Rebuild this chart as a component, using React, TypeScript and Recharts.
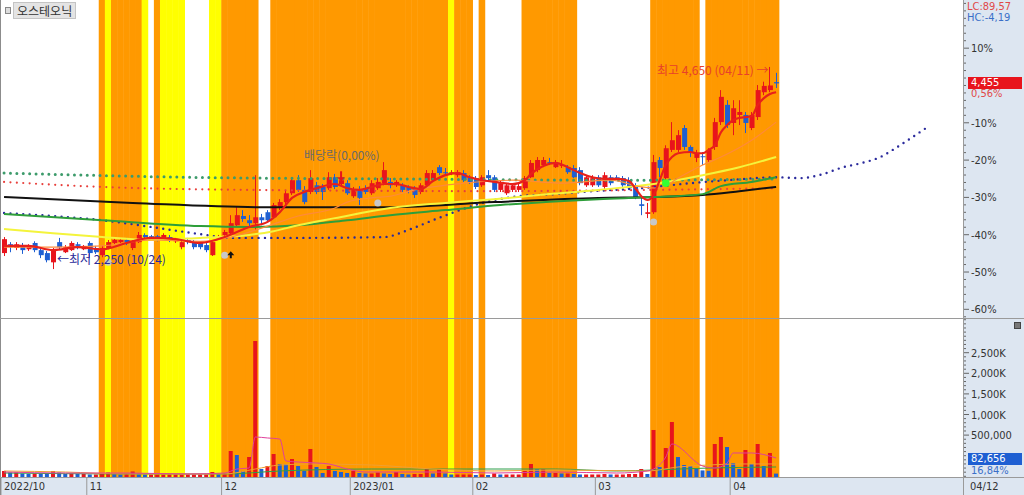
import { BarChart, ComposedChart, Bar, Line, XAxis, YAxis, ReferenceDot } from "recharts";

// daily candles (KRW), 2022-10-12 .. 2023-04-12, one per trading day
const openP = [
  2440, 2545, 2500, 2535, 2485, 2560, 2475, 2440, 2330, 2570,
  2450, 2475, 2545, 2485, 2560, 2500, 2415, 2500, 2560, 2570,
  2595, 2500, 2570, 2655, 2640, 2640, 2620, 2630, 2580, 2510,
  2595, 2570, 2560, 2535, 2415, 2620, 2655, 2675, 2770, 2880,
  2830, 2795, 2865, 2925, 2865, 2975, 3045, 3150, 3305, 3190,
  3165, 3245, 3225, 3210, 3340, 3260, 3270, 3115, 3190, 3210,
  3150, 3210, 3270, 3285, 3245, 3245, 3225, 3210, 3165, 3245,
  3305, 3460, 3400, 3400, 3365, 3390, 3340, 3330, 3245, 3365,
  3340, 3190, 3150, 3190, 3190, 3210, 3340, 3425, 3485, 3520,
  3460, 3485, 3460, 3450, 3425, 3245, 3245, 3340, 3225, 3340,
  3340, 3330, 3305, 3245, 3020, 2905, 2925, 3545, 3330, 3665,
  3665, 3925, 3700, 3570, 3590, 3545, 3700, 3995, 4200, 3985,
  4080, 4080, 3925, 4055, 4350, 4375, 4470,
];
const highP = [
  2630, 2570, 2570, 2560, 2545, 2580, 2500, 2465, 2500, 2620,
  2535, 2580, 2570, 2535, 2580, 2525, 2525, 2595, 2620, 2620,
  2620, 2595, 2690, 2675, 2655, 2655, 2675, 2655, 2620, 2595,
  2620, 2595, 2580, 2560, 2570, 2655, 2715, 2890, 2985, 2950,
  2890, 3365, 2905, 2950, 3035, 3080, 3190, 3340, 3365, 3235,
  3425, 3285, 3260, 3400, 3380, 3355, 3305, 3225, 3235, 3245,
  3305, 3330, 3520, 3330, 3305, 3270, 3245, 3235, 3270, 3425,
  3425, 3485, 3450, 3425, 3425, 3425, 3365, 3355, 3365, 3425,
  3365, 3305, 3270, 3270, 3260, 3355, 3545, 3580, 3580, 3570,
  3545, 3545, 3485, 3485, 3460, 3365, 3365, 3365, 3400, 3365,
  3365, 3355, 3340, 3270, 3105, 3035, 3605, 3580, 3720, 3995,
  3900, 3960, 3720, 3665, 3640, 3685, 4045, 4375, 4255, 4255,
  4255, 4115, 4115, 4435, 4475, 4650, 4580,
];
const lowP = [
  2405, 2450, 2475, 2430, 2465, 2450, 2380, 2330, 2250, 2485,
  2440, 2465, 2485, 2475, 2380, 2430, 2390, 2485, 2545, 2560,
  2535, 2475, 2560, 2595, 2595, 2580, 2595, 2570, 2560, 2485,
  2545, 2485, 2485, 2450, 2405, 2605, 2630, 2665, 2750, 2810,
  2760, 2715, 2770, 2810, 2855, 2950, 3020, 3130, 3165, 3020,
  3140, 3140, 3070, 3190, 3200, 3235, 3130, 3095, 3010, 3140,
  3130, 3190, 3245, 3210, 3225, 3165, 3150, 3095, 3140, 3225,
  3285, 3365, 3365, 3365, 3340, 3285, 3260, 3200, 3225, 3285,
  3165, 3165, 3130, 3165, 3165, 3190, 3330, 3400, 3460, 3485,
  3450, 3450, 3380, 3330, 3245, 3225, 3225, 3225, 3200, 3245,
  3305, 3225, 3190, 3080, 2890, 2855, 2905, 3340, 3305, 3640,
  3640, 3665, 3580, 3520, 3485, 3510, 3665, 3960, 3925, 3840,
  3960, 3865, 3900, 4020, 4315, 4350, 4400,
];
const closeP = [
  2605, 2510, 2545, 2475, 2525, 2475, 2415, 2355, 2475, 2510,
  2510, 2560, 2525, 2525, 2440, 2450, 2500, 2570, 2595, 2595,
  2560, 2570, 2655, 2630, 2630, 2620, 2655, 2595, 2605, 2570,
  2570, 2510, 2510, 2475, 2570, 2630, 2690, 2795, 2890, 2845,
  2795, 2865, 2830, 2830, 3010, 3045, 3150, 3305, 3190, 3045,
  3330, 3165, 3165, 3340, 3225, 3305, 3150, 3190, 3095, 3165,
  3270, 3285, 3425, 3245, 3285, 3190, 3190, 3130, 3245, 3390,
  3390, 3390, 3390, 3400, 3400, 3305, 3285, 3225, 3340, 3330,
  3190, 3270, 3245, 3245, 3235, 3330, 3510, 3545, 3545, 3510,
  3510, 3485, 3400, 3340, 3270, 3340, 3330, 3245, 3365, 3270,
  3330, 3245, 3210, 3105, 3000, 2925, 3520, 3450, 3685, 3780,
  3840, 3700, 3640, 3625, 3580, 3665, 3995, 4295, 3960, 4160,
  4115, 3985, 4080, 4375, 4425, 4430, 4455,
];
const volume = [
  146000, 109000, 112000, 85000, 73000, 85000, 80000, 73000, 146000, 109000,
  73000, 85000, 73000, 73000, 61000, 61000, 73000, 109000, 73000, 61000,
  73000, 133000, 85000, 61000, 61000, 61000, 61000, 61000, 61000, 61000,
  61000, 61000, 61000, 61000, 121000, 73000, 85000, 631000, 534000, 146000,
  485000, 3301000, 194000, 267000, 558000, 316000, 310000, 437000, 267000, 146000,
  680000, 243000, 97000, 267000, 146000, 121000, 97000, 146000, 97000, 85000,
  85000, 109000, 85000, 73000, 121000, 73000, 61000, 73000, 73000, 194000,
  85000, 194000, 85000, 61000, 61000, 61000, 61000, 49000, 61000, 49000,
  85000, 61000, 61000, 61000, 61000, 146000, 316000, 194000, 194000, 97000,
  97000, 85000, 85000, 73000, 61000, 61000, 61000, 61000, 73000, 61000,
  61000, 61000, 73000, 73000, 194000, 73000, 1141000, 243000, 704000, 1335000,
  485000, 291000, 267000, 194000, 160000, 150000, 801000, 971000, 728000, 340000,
  194000, 655000, 316000, 801000, 267000, 583000, 82656,
];

// indicator lines as [day index, value]
const ma5Pts = [[0, 2525], [4, 2525], [8, 2475], [12, 2510], [16, 2485], [20, 2560], [24, 2620], [28, 2605], [32, 2560], [36, 2630], [38, 2690], [40, 2750], [43, 2810], [45, 2925], [47, 3095], [49, 3165], [51, 3210], [54, 3260], [56, 3210], [58, 3190], [60, 3225], [62, 3260], [64, 3260], [66, 3225], [68, 3200], [70, 3295], [72, 3365], [74, 3390], [76, 3340], [78, 3305], [80, 3285], [83, 3260], [85, 3305], [86, 3380], [88, 3475], [90, 3510], [92, 3460], [94, 3390], [96, 3340], [98, 3320], [100, 3320], [102, 3295], [103, 3210], [104, 3115], [105, 3070], [106, 3130], [107, 3305], [108, 3485], [109, 3580], [110, 3625], [112, 3640], [113, 3625], [114, 3625], [115, 3665], [116, 3720], [117, 3875], [118, 3960], [119, 4020], [120, 4045], [121, 4055], [122, 4065], [123, 4200], [124, 4280], [125, 4330], [126, 4350]];
const ma20Pts = [[0, 2510], [8, 2510], [16, 2525], [24, 2595], [32, 2580], [37, 2630], [43, 2760], [48, 2880], [54, 2975], [56, 3045], [60, 3095], [63, 3115], [67, 3190], [75, 3270], [83, 3305], [91, 3270], [99, 3305], [104, 3225], [107, 3210], [110, 3330], [114, 3485], [117, 3580], [122, 3780], [126, 3995]];
const ma60Pts = [[0, 2725], [8, 2675], [16, 2630], [24, 2595], [32, 2620], [40, 2655], [44, 2700], [48, 2770], [54, 2855], [63, 2975], [72, 3035], [80, 3080], [89, 3140], [97, 3190], [106, 3260], [114, 3365], [120, 3460], [126, 3580]];
const ma120Pts = [[0, 2905], [16, 2830], [32, 2760], [40, 2750], [48, 2770], [56, 2830], [63, 2890], [72, 2950], [81, 3010], [97, 3080], [106, 3105], [114, 3140], [117, 3235], [122, 3285], [126, 3340]];
const ma240Pts = [[0, 3105], [21, 3035], [42, 2985], [63, 2985], [80, 3045], [97, 3095], [106, 3105], [114, 3130], [120, 3175], [126, 3225]];
const dotGreenPts = [[0, 3390], [30, 3340], [65, 3320], [100, 3305], [126, 3320]];
const dotRedPts = [[0, 3285], [16, 3225], [40, 3190], [80, 3175], [106, 3190], [126, 3210]];
const dotBluePts = [[0, 2915], [8, 2880], [16, 2830], [24, 2750], [32, 2665], [37, 2620], [48, 2620], [62, 2630], [66, 2715], [70, 2830], [74, 2940], [78, 3035], [84, 3115], [90, 3140], [96, 3175], [104, 3210], [112, 3270], [118, 3305], [126, 3340], [130, 3330], [133, 3365], [137, 3460], [140, 3510], [143, 3580], [146, 3710], [148, 3805], [151, 3950]];

const vma5Pts = [[0, 121000], [10, 97000], [20, 97000], [30, 73000], [36, 97000], [38, 194000], [40, 218000], [41, 971000], [43, 947000], [45, 922000], [46, 388000], [48, 364000], [51, 340000], [53, 316000], [56, 194000], [59, 121000], [70, 121000], [80, 97000], [90, 121000], [100, 97000], [105, 146000], [106, 194000], [108, 485000], [109, 801000], [111, 631000], [112, 485000], [114, 267000], [116, 218000], [118, 340000], [119, 583000], [122, 583000], [126, 461000]];
const vma20Pts = [[0, 146000], [10, 121000], [20, 73000], [36, 73000], [41, 194000], [45, 291000], [50, 316000], [60, 291000], [70, 194000], [80, 146000], [90, 170000], [105, 146000], [110, 243000], [115, 291000], [120, 316000], [126, 316000]];
const vma60Pts = [[0, 97000], [20, 73000], [36, 73000], [45, 146000], [60, 194000], [90, 194000], [100, 146000], [106, 170000], [115, 218000], [126, 243000]];

// highlight columns: [first day, last day, colour key]
const bandRuns: [number, number, string][] = [
  [16, 16, "o"], [17, 17, "y"], [18, 22, "o"], [23, 23, "y"], [25, 25, "o"],
  [26, 29, "y"], [34, 35, "y"], [36, 41, "o"], [44, 72, "o"], [73, 73, "y"],
  [74, 76, "o"], [78, 78, "o"], [85, 93, "o"], [106, 113, "o"], [115, 126, "o"],
];

const monthTicks: [number, string][] = [[0, "2022/10"], [14, "11"], [36, "12"], [57, "2023/01"], [77, "02"], [97, "03"], [119, "04"]];
const MAJOR_PCT = [10, -10, -20, -30, -40, -50, -60];
const VOL_LABELS: Record<number, string> = { 500000: "500,000", 1000000: "1,000K", 1500000: "1,500K", 2000000: "2,000K", 2500000: "2,500K" };

const BASE_PRICE = 4430;
const W = 1024;
const AXIS_W = 61;
const SLOTS = 157;
const SLOT_W = (W - 1 - AXIS_W) / SLOTS;
const MAIN_H = 318;
const P_MIN = 1669;
const P_MAX = 5445;
const VOL_MIN = -517000;
const VOL_MAX = 3318000;

const RED = "#e8141c";
const BLUE = "#1e5fd2";
const PANEL = "#dde6f1";
const NUM_FONT = "'Liberation Sans Narrow','DejaVu Sans Condensed','Liberation Sans',sans-serif";
const KR_FONT = "'Noto Sans CJK KR',sans-serif";

const spread = (pts: number[][]) => {
  const out: (number | null)[] = Array(SLOTS).fill(null);
  pts.forEach(([i, v]) => (out[i] = v));
  return out;
};
const bandOf: string[] = Array(SLOTS).fill("");
bandRuns.forEach(([a, b, c]) => {
  for (let i = a; i <= b; i++) bandOf[i] = c;
});
const s = {
  ma5: spread(ma5Pts), ma20: spread(ma20Pts), ma60: spread(ma60Pts), ma120: spread(ma120Pts), ma240: spread(ma240Pts),
  dg: spread(dotGreenPts), dr: spread(dotRedPts), db: spread(dotBluePts),
  v5: spread(vma5Pts), v20: spread(vma20Pts), v60: spread(vma60Pts),
};

const rows = Array.from({ length: SLOTS }, (_, i) => ({
  i,
  open: openP[i], high: highP[i], low: lowP[i], close: closeP[i],
  vol: volume[i],
  volUp: i === 0 || volume[i] >= volume[i - 1],
  ma5: s.ma5[i], ma20: s.ma20[i], ma60: s.ma60[i], ma120: s.ma120[i], ma240: s.ma240[i],
  dg: s.dg[i], dr: s.dr[i], db: s.db[i],
  v5: s.v5[i] == null ? null : VOL_MIN + (s.v5[i] as number),
  v20: s.v20[i] == null ? null : VOL_MIN + (s.v20[i] as number),
  v60: s.v60[i] == null ? null : VOL_MIN + (s.v60[i] as number),
  band: bandOf[i] ? 1 : 0,
}));

const priceTicks = Array.from({ length: 43 }, (_, k) => BASE_PRICE * (1 + (k - 31) / 50));
const volTicks = Array.from({ length: 39 }, (_, k) => (k - 5) * 100000);

const Candle = (p: any) => {
  const d = p.payload;
  if (!d || d.high == null || !isFinite(p.y) || !isFinite(p.height)) return null;
  const top = Math.min(p.y, p.y + p.height);
  const h = Math.abs(p.height);
  const ppu = d.high === d.low ? 0 : h / (d.high - d.low);
  const up = d.close >= d.open;
  const color = up ? RED : BLUE;
  const bodyTop = top + (d.high - Math.max(d.open, d.close)) * ppu;
  const bodyH = Math.max(1, Math.abs(d.open - d.close) * ppu);
  const cx = Math.round(p.x + p.width / 2) - 0.5;
  return (
    <g>
      <line x1={cx} x2={cx} y1={top} y2={top + h} stroke={color} strokeWidth={1} />
      <rect x={p.x} y={bodyTop} width={p.width} height={bodyH} fill={color} />
    </g>
  );
};

const VolBar = (p: any) => {
  const d = p.payload;
  if (!d || d.vol == null || !isFinite(p.height)) return null;
  return <rect x={p.x} y={Math.min(p.y, p.y + p.height)} width={p.width} height={Math.abs(p.height)} fill={d.volUp ? RED : BLUE} />;
};

const BandCell = (p: any) => {
  const c = bandOf[p.payload?.i];
  if (!c) return null;
  return <rect x={p.x - 0.3} y={p.y} width={p.width + 0.6} height={p.height} fill={c === "o" ? "#ff9900" : "#ffff00"} />;
};

const PriceTick = ({ x, y, payload }: any) => {
  const pct = Math.round((payload.value / BASE_PRICE - 1) * 100);
  const major = MAJOR_PCT.includes(pct);
  return (
    <g>
      <line x1={x} x2={x + (major ? 6 : 3)} y1={y} y2={y} stroke="#666" />
      {major && (
        <text x={x + 8} y={y} dy={4} fontSize={11} fill="#333" fontFamily={NUM_FONT}>{pct}%</text>
      )}
    </g>
  );
};

const VolTick = ({ x, y, payload }: any) => {
  const label = VOL_LABELS[payload.value];
  return (
    <g>
      <line x1={x} x2={x + (label ? 6 : 3)} y1={y} y2={y} stroke="#666" />
      {label && (
        <text x={x + 8} y={y} dy={4} fontSize={11} fill="#333" fontFamily={NUM_FONT}>{label}</text>
      )}
    </g>
  );
};

const monthLabel: Record<number, string> = Object.fromEntries(monthTicks);
const MonthTick = ({ x, y, payload }: any) => {
  const left = x - SLOT_W / 2;
  return (
    <g>
      <line x1={left} x2={left} y1={y} y2={y + 18} stroke="#999" />
      <text x={left + 3} y={y + 13} fontSize={11} fill="#333" fontFamily={NUM_FONT}>{monthLabel[payload.value]}</text>
    </g>
  );
};

const dotted = (key: string, color: string, w: number) => (
  <Line yAxisId="p" type="monotone" dataKey={key} stroke={color} strokeWidth={w} strokeDasharray="0 6.4"
    strokeLinecap="round" dot={false} activeDot={false} connectNulls isAnimationActive={false} />
);
const solid = (key: string, color: string, w: number) => (
  <Line yAxisId="p" type="monotone" dataKey={key} stroke={color} strokeWidth={w}
    dot={false} activeDot={false} connectNulls isAnimationActive={false} />
);
const volLine = (key: string, color: string) => (
  <Line yAxisId="v" type="monotone" dataKey={key} stroke={color} strokeWidth={1}
    dot={false} activeDot={false} connectNulls isAnimationActive={false} />
);

const abs = (left: number, top: number, extra: any = {}) => ({ position: "absolute" as const, left, top, ...extra });

export default function App() {
  return (
    <div style={{ position: "fixed", left: 0, top: 0, width: W, height: 495, background: "#fff", overflow: "hidden" }}>
      <div style={abs(W - AXIS_W, 0, { width: AXIS_W, height: 495, background: PANEL })} />
      <div style={abs(0, 477, { width: W, height: 18, background: PANEL })} />

      <div style={abs(0, 0)}>
        <BarChart width={W} height={477} data={rows} margin={{ top: 0, right: AXIS_W, bottom: 0, left: 1 }} barCategoryGap={0}>
          <XAxis dataKey="i" hide />
          <YAxis hide domain={[0, 1]} />
          <Bar dataKey="band" shape={(p: any) => <BandCell {...p} />} isAnimationActive={false} />
        </BarChart>
      </div>

      <div style={abs(0, 0)}>
        <ComposedChart width={W} height={MAIN_H} data={rows} margin={{ top: 0, right: 0, bottom: 0, left: 1 }}>
          <XAxis dataKey="i" hide />
          <YAxis yAxisId="p" orientation="right" width={AXIS_W} type="number" domain={[P_MIN, P_MAX]} allowDataOverflow
            ticks={priceTicks} interval={0} tick={<PriceTick />} tickLine={false} tickSize={0} tickMargin={0} axisLine={false} />
          {dotted("db", "#2a2a9c", 2.4)}
          {dotted("dr", "#e8403c", 2.2)}
          {dotted("dg", "#3d9b6b", 3)}
          {solid("ma240", "#111111", 2)}
          {solid("ma120", "#2e9e3a", 2)}
          {solid("ma60", "#f4f43c", 2)}
          {solid("ma20", "#ff8a3a", 1.2)}
          <Bar yAxisId="p" dataKey={(d: any) => (d.high == null ? undefined : [d.low, d.high])} barSize={5}
            shape={(p: any) => <Candle {...p} />} isAnimationActive={false} />
          {solid("ma5", "#e8201a", 2.2)}
          <ReferenceDot yAxisId="p" x={17} y={2330} r={3.5} fill="#c8c8c8" stroke="none" />
          <ReferenceDot yAxisId="p" x={36} y={2415} r={3.5} fill="#c8c8c8" stroke="none" />
          <ReferenceDot yAxisId="p" x={61} y={3035} r={3.5} fill="#c8c8c8" stroke="none" />
          <ReferenceDot yAxisId="p" x={106} y={2810} r={3.5} fill="#c8c8c8" stroke="none" />
          <ReferenceDot yAxisId="p" x={108} y={3270} r={3.8} fill="#33ff33" stroke="none" />
          <ReferenceDot yAxisId="p" x={37} y={2415} r={4}
            shape={(p: any) => (
              <path d={`M${p.cx - 3.5},${p.cy} L${p.cx},${p.cy - 4} L${p.cx + 3.5},${p.cy} L${p.cx + 1},${p.cy} L${p.cx + 1},${p.cy + 3} L${p.cx - 1},${p.cy + 3} L${p.cx - 1},${p.cy} Z`} fill="#111" />
            )} />
          <ReferenceDot yAxisId="p" x={55} y={3340} r={4}
            shape={(p: any) => (
              <path d={`M${p.cx - 1},${p.cy - 6} L${p.cx + 1},${p.cy - 6} L${p.cx + 1},${p.cy} L${p.cx + 4},${p.cy} L${p.cx},${p.cy + 4} L${p.cx - 4},${p.cy} L${p.cx - 1},${p.cy} Z`} fill={RED} />
            )} />
        </ComposedChart>
      </div>

      <div style={abs(0, MAIN_H + 1)}>
        <ComposedChart width={W} height={176} data={rows} margin={{ top: 0, right: 0, bottom: 0, left: 1 }}>
          <XAxis dataKey="i" height={18} ticks={monthTicks.map((m) => m[0])} interval={0} tick={<MonthTick />}
            tickLine={false} tickSize={0} tickMargin={0} axisLine={false} />
          <YAxis yAxisId="v" orientation="right" width={AXIS_W} type="number" domain={[VOL_MIN, VOL_MAX]} allowDataOverflow
            ticks={volTicks} interval={0} tick={<VolTick />} tickLine={false} tickSize={0} tickMargin={0} axisLine={false} />
          <Bar yAxisId="v" dataKey={(d: any) => (d.vol == null ? undefined : [VOL_MIN, VOL_MIN + d.vol])} barSize={4}
            shape={(p: any) => <VolBar {...p} />} isAnimationActive={false} />
          {volLine("v60", "#2f9e4a")}
          {volLine("v20", "#f0a030")}
          {volLine("v5", "#e0409a")}
        </ComposedChart>
      </div>

      {/* frame lines */}
      <div style={abs(0, 0, { width: 1, height: 495, background: "#8c8c8c" })} />
      <div style={abs(W - AXIS_W, 0, { width: 1, height: 495, background: "#9a9a9a" })} />
      <div style={abs(0, MAIN_H, { width: W, height: 1, background: "#9a9a9a" })} />
      <div style={abs(0, 477, { width: W, height: 1, background: "#9a9a9a" })} />

      {/* title and labels */}
      <div style={abs(5, 7, { width: 4, height: 5, border: "1px solid #888", background: "#ddd" })} />
      <div style={abs(13, 2, { padding: "0 3px", height: 15, lineHeight: "15px", background: "#e4e4e4", border: "1px solid #c4c4c4", fontFamily: KR_FONT, fontSize: 12, color: "#333" })}>오스테오닉</div>

      <div style={abs(967, 1, { fontFamily: NUM_FONT, fontSize: 11, color: "#e04848", lineHeight: "12px" })}>LC:89,57</div>
      <div style={abs(967, 12, { fontFamily: NUM_FONT, fontSize: 11, color: "#3a6fc8", lineHeight: "12px" })}>HC:-4,19</div>
      <div style={abs(968, 77, { width: 54, height: 12, background: RED, color: "#fff", fontFamily: NUM_FONT, fontSize: 11, lineHeight: "12px", paddingLeft: 3, boxSizing: "border-box" })}>4,455</div>
      <div style={abs(971, 88, { fontFamily: NUM_FONT, fontSize: 11, color: "#e04848", lineHeight: "12px" })}>0,56%</div>
      <div style={abs(1014, 322, { width: 5, height: 5, border: "1px solid #444", background: "#777" })} />
      <div style={abs(968, 453, { width: 54, height: 12, background: BLUE, color: "#fff", fontFamily: NUM_FONT, fontSize: 11, lineHeight: "12px", paddingLeft: 3, boxSizing: "border-box" })}>82,656</div>
      <div style={abs(971, 465, { fontFamily: NUM_FONT, fontSize: 11, color: "#3a6fc8", lineHeight: "12px" })}>16,84%</div>
      <div style={abs(970, 480, { fontFamily: NUM_FONT, fontSize: 11, color: "#333", lineHeight: "13px" })}>04/12</div>

      <div style={abs(57, 251, { fontFamily: KR_FONT, fontSize: 12, color: "#2a2a9a", lineHeight: "16px", whiteSpace: "nowrap" })}>←최저 2,250 (10/24)</div>
      <div style={abs(657, 62, { fontFamily: KR_FONT, fontSize: 12, color: "#e8402a", lineHeight: "16px", whiteSpace: "nowrap" })}>최고 4,650 (04/11) →</div>
      <div style={abs(304, 147, { fontFamily: KR_FONT, fontSize: 12, color: "#6a6a6a", lineHeight: "16px", whiteSpace: "nowrap" })}>배당락(0,00%)</div>
    </div>
  );
}
